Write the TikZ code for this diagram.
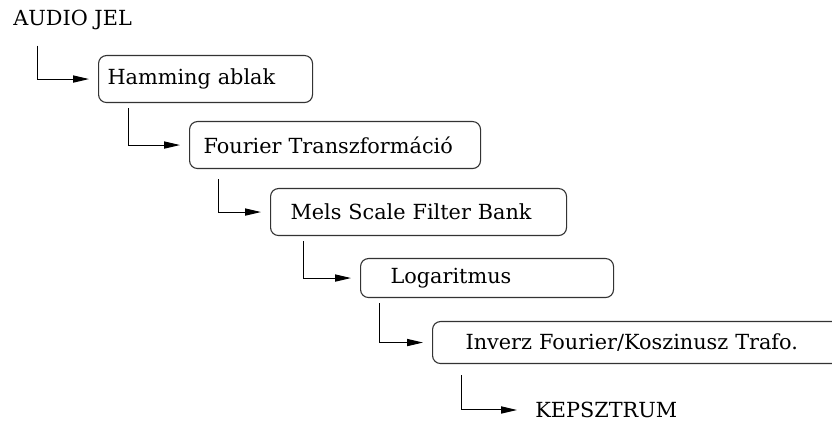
\documentclass[tikz,border=0pt]{standalone}
\usepackage{fontspec}
\setmainfont{DejaVu Serif}
\usetikzlibrary{arrows.meta,calc}

\begin{document}
\begin{tikzpicture}[
  x=0.5pt, y=-0.5pt,
  font=\fontsize{10.4pt}{12pt}\selectfont,
  box/.style={draw=black!80, line width=0.55pt, rounded corners=4pt,
              anchor=north west, inner xsep=0pt, inner ysep=0pt,
              align=left},
  label text/.style={inner sep=0pt},
  arrow/.style={-{Triangle[length=8pt,width=3.6pt]}, line width=0.5pt,
                shorten >=4.5pt}
]
\clip (0,0) rectangle (832,426);
\node[label text, anchor=base west] (audio) at (13,26) {AUDIO JEL};
\node[box, text width=107pt, minimum height=23.5pt] (hamming) at (98,55)
  {\hspace*{4.5pt}Hamming ablak};
\node[box, text width=145.5pt, minimum height=23.5pt] (fourier) at (189,121)
  {\hspace*{7pt}Fourier Transzformáció};
\node[box, text width=148pt, minimum height=23.5pt] (mels) at (270,188)
  {\hspace*{10pt}Mels Scale Filter Bank};
\node[box, text width=126.5pt, minimum height=19.5pt] (logaritmus) at (360,258)
  {\hspace*{15pt}Logaritmus};
\node[box, text width=210pt, minimum height=21pt] (inverz) at (432,321)
  {\hspace*{16.5pt}Inverz Fourier/Koszinusz Trafo.};
\node[label text, anchor=west] (kepsztrum) at (535,410) {KEPSZTRUM};
% lepcsos nyilak
\draw[arrow] ([xshift=12pt,yshift=-7.5pt]audio.south west) |- (hamming.west);
\draw[arrow] ([xshift=15pt,yshift=-2.5pt]hamming.south west) |- (fourier.west);
\draw[arrow] ([xshift=14.5pt,yshift=-5pt]fourier.south west) |- (mels.west);
\draw[arrow] ([xshift=16.5pt,yshift=-2.5pt]mels.south west) |- (logaritmus.west);
\draw[arrow] ([xshift=9.5pt,yshift=-2.5pt]logaritmus.south west) |- (inverz.west);
\draw[arrow, shorten >=9pt] ([xshift=14.5pt,yshift=-5.5pt]inverz.south west) |- (kepsztrum.west);
\end{tikzpicture}
\end{document}
